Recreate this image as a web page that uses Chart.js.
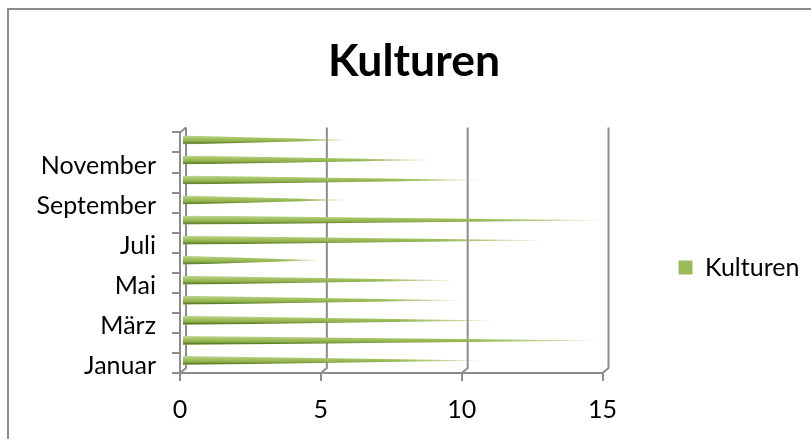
<!DOCTYPE html>
<html>
<head>
<meta charset="utf-8">
<script src="https://cdn.jsdelivr.net/npm/chart.js@4"></script>
<style>
  html, body { margin: 0; padding: 0; background: #fff; overflow: hidden; }
  #wrap { position: relative; width: 811px; height: 439px; }
  #frame { position: absolute; left: 7px; top: 8px; right: -5px; bottom: -5px; border: 2px solid #8c8c8c; }
  canvas { position: absolute; left: 0; top: 0; }
</style>
</head>
<body>
<div id="wrap">
  <div id="frame"></div>
  <canvas id="chart" width="811" height="439"></canvas>
</div>
<script>
const months = ['Januar', 'Februar', 'März', 'April', 'Mai', 'Juni', 'Juli', 'August', 'September', 'Oktober', 'November', 'Dezember'];
const kulturen = [10.65, 14.8, 11, 9.9, 9.7, 4.85, 12.85, 15, 5.85, 10.7, 8.85, 5.95];
const xTicks = [0, 5, 10, 15];

const axisGrey = '#8c8c8c';
const depthX = 6;
const depthY = 5;

// back wall lines + the little diagonals joining them to the front axis
const wallPlugin = {
  id: 'walls',
  afterLayout(chart) {
    // legend sits level with the lower half of the plot, not the page middle
    chart.legend.top += 48;
    chart.legend.bottom += 48;
    // legend clips to its box, give the text room
    chart.legend.right += 15;
  },
  beforeDatasetsDraw(chart) {
    const { ctx, scales: { x }, chartArea } = chart;
    ctx.save();
    ctx.strokeStyle = axisGrey;
    ctx.lineWidth = 2;
    xTicks.forEach(v => {
      const px = x.getPixelForValue(v);
      ctx.beginPath();
      ctx.moveTo(px, chartArea.bottom);
      ctx.lineTo(px + depthX, chartArea.bottom - depthY);
      ctx.lineTo(px + depthX, chartArea.top - depthY);
      ctx.stroke();
    });
    ctx.beginPath();
    ctx.moveTo(x.getPixelForValue(0), chartArea.top);
    ctx.lineTo(x.getPixelForValue(0) + depthX, chartArea.top - depthY);
    ctx.stroke();
    ctx.restore();
  },
};

// Excel style cones, fading out towards the tip
const conePlugin = {
  id: 'cones',
  beforeDatasetDraw(chart, args) {
    const { ctx } = chart;
    args.meta.data.forEach(el => {
      const base = el.base + 2;
      const tip = el.x + 3;
      const y = el.y - 2.5;
      const half = el.height / 2;
      const shade = ctx.createLinearGradient(0, y - half, 0, y + half);
      shade.addColorStop(0, '#c3d69b');
      shade.addColorStop(0.35, '#a4c261');
      shade.addColorStop(0.65, '#8fb04c');
      shade.addColorStop(0.85, '#5f7f2a');
      shade.addColorStop(1, '#9bb56a');
      ctx.save();
      ctx.beginPath();
      ctx.moveTo(base, y - half);
      ctx.lineTo(tip, y);
      ctx.lineTo(base, y + half);
      ctx.closePath();
      ctx.clip();
      ctx.fillStyle = shade;
      for (let sx = base; sx < tip; sx += 2) {
        const t = (sx - base) / (tip - base);
        ctx.globalAlpha = t < 0.7 ? 1 : Math.max(0.35, 1 - (t - 0.7) * 2.2);
        ctx.fillRect(sx, y - half, 2, half * 2);
      }
      ctx.restore();
    });
    return false;
  },
};

new Chart(document.getElementById('chart'), {
  type: 'bar',
  data: {
    labels: months,
    datasets: [{
      label: 'Kulturen',
      data: kulturen,
      backgroundColor: '#9bbb59',
      categoryPercentage: 1,
      barPercentage: 0.45,
    }],
  },
  plugins: [wallPlugin, conePlugin],
  options: {
    indexAxis: 'y',
    responsive: false,
    animation: false,
    layout: { padding: { left: 37, right: 20, top: 0, bottom: 0 } },
    plugins: {
      tooltip: { enabled: false },
      title: {
        display: true,
        text: 'Kulturen',
        color: '#000',
        font: { family: 'Lato', size: 44.5, weight: 'bold' },
        padding: { top: 35, bottom: 44 },
      },
      legend: {
        position: 'right',
        labels: {
          boxWidth: 14,
          boxHeight: 14,
          padding: 76,
          color: '#000',
          font: { family: 'Lato', size: 25 },
        },
      },
    },
    scales: {
      x: {
        min: 0,
        max: 15,
        ticks: { stepSize: 5, color: '#000', padding: 14, font: { family: 'Lato', size: 25 } },
        grid: { drawOnChartArea: false, color: axisGrey, lineWidth: 2, tickLength: 8 },
        border: { color: axisGrey, width: 2 },
        afterFit(scale) { scale.height = 66; },
      },
      y: {
        reverse: true,
        ticks: {
          autoSkip: false,
          color: '#000',
          padding: 16,
          labelOffset: 3,
          font: { family: 'Lato', size: 25 },
          callback(value, index) { return index % 2 === 0 ? months[index] : ''; },
        },
        grid: { drawOnChartArea: false, color: axisGrey, lineWidth: 2, tickLength: 8 },
        border: { color: axisGrey, width: 2 },
        afterFit(scale) { scale.width = 143; },
      },
    },
  },
});
</script>
</body>
</html>
